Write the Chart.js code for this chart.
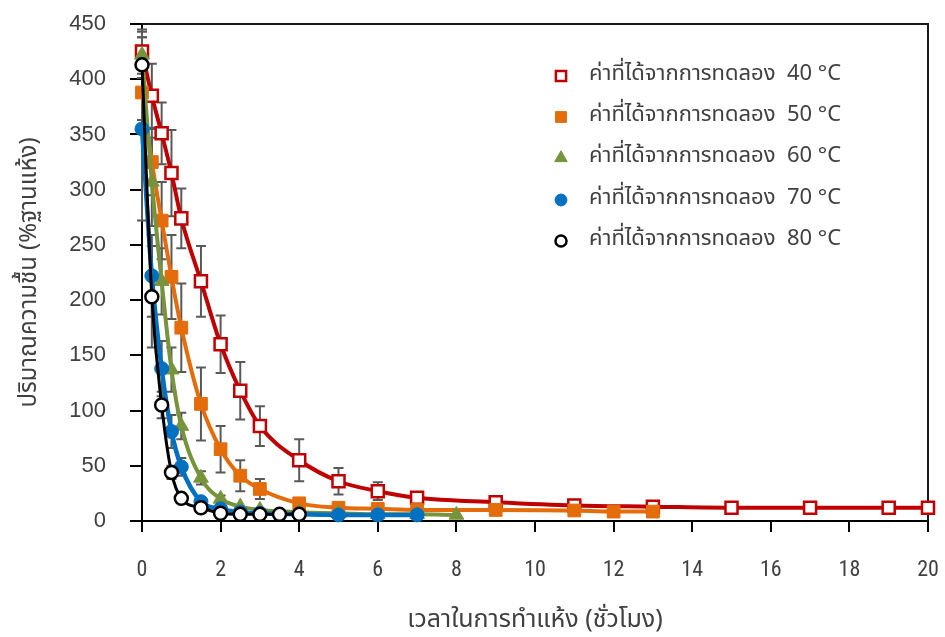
<!DOCTYPE html>
<html><head><meta charset="utf-8">
<script src="https://cdn.jsdelivr.net/npm/chart.js@4.4.0/dist/chart.umd.min.js"></script>
<style>html,body{margin:0;padding:0;background:#fff}#wrap{position:relative;width:945px;height:637px}</style>
</head><body><div id="wrap"><canvas id="c" width="945" height="637"></canvas></div>
<script>
// ---- data ----
const legendLabels = ['ค่าที่ได้จากการทดลอง  40 °C','ค่าที่ได้จากการทดลอง  50 °C','ค่าที่ได้จากการทดลอง  60 °C','ค่าที่ได้จากการทดลอง  70 °C','ค่าที่ได้จากการทดลอง  80 °C'];
const xTitle = 'เวลาในการทำแห้ง (ชั่วโมง)';
const yTitle = 'ปริมาณความชื้น (%ฐานแห้ง)';
const xTickValues = [0,2,4,6,8,10,12,14,16,18,20];
const yTickValues = [0,50,100,150,200,250,300,350,400,450];

const time40  = [0,0.25,0.5,0.75,1,1.5,2,2.5,3,4,5,6,7,9,11,13,15,17,19,20];
const moist40 = [425,385,351,315,274,217,160,118,86,55,36,27,21,17,14,13,12,12,12,12];
const err40   = [20,29,28,39,27,32,26,26,18,19,12,8,0,0,0,0,0,0,0,0];

const time50  = [0,0.25,0.5,0.75,1,1.5,2,2.5,3,4,5,6,7,9,11,12,13];
const moist50 = [388,325,272,221,175,106,65,41,29,16,12,11,10,10,9.5,8.5,8.5];
const err50   = [25,30,35,38,40,33,21,14,9,3,0,0,0,0,0,0,0];

const time60  = [0,0.25,0.5,0.75,1,1.5,2,2.5,3,4,5,6,7,8];
const moist60 = [422,307,217,137,86,39,20,13,10,8,7,6,6,5.5];
const err60   = [21,40,30,20,12,6,3,0,0,0,0,0,0,0];

const time70  = [0,0.25,0.5,0.75,1,1.5,2,2.5,3,4,5,6,7];
const moist70 = [355,222,138,81,49,17.5,11,8,7,6,5.5,5.5,5.5];
const err70   = [83,37,25,15,8,0,0,0,0,0,0,0,0];

const time80  = [0,0.25,0.5,0.75,1,1.5,2,2.5,3,3.5,4];
const moist80 = [413,203,105,44,20.5,12,7,6,6,6,6];
const err80   = [25,46,12,6,3,0,0,0,0,0,0];

// ---- styles ----
const THAI = "'Noto Sans Thai','Noto Sans','Open Sans',sans-serif";
const styles = [
  {color:'#C00000', fill:'#FFFFFF', pointStyle:'rect', r:8.5, bw:2.5, lw:4, order:5},
  {color:'#E46C0A', fill:'#E46C0A', pointStyle:'rect', r:9, bw:1, lw:4, order:4},
  {color:'#77933C', fill:'#77933C', pointStyle:'triangle', r:8.5, bw:1, lw:4, order:3},
  {color:'#0070C0', fill:'#0070C0', pointStyle:'circle', r:7, bw:1, lw:4.5, order:2},
  {color:'#000000', fill:'#FFFFFF', pointStyle:'circle', r:6.5, bw:2.5, lw:3, order:1}
];
const times = [time40,time50,time60,time70,time80];
const moists = [moist40,moist50,moist60,moist70,moist80];
const errs = [err40,err50,err60,err70,err80];

const datasets = styles.map((s,i)=>({
  label: legendLabels[i],
  data: times[i].map((t,k)=>({x:t, y:moists[i][k]})),
  errors: errs[i],
  borderColor: s.color, borderWidth: s.lw,
  pointStyle: s.pointStyle, pointRadius: s.r, pointHoverRadius: s.r,
  pointBackgroundColor: s.fill, pointBorderColor: s.color, pointBorderWidth: s.bw,
  cubicInterpolationMode: 'monotone', tension: 0.4,
  fill: false, clip: false, order: s.order
}));

const errorBarPlugin = {
  id: 'errorBars',
  beforeDatasetsDraw(chart){
    const ctx = chart.ctx, xs = chart.scales.x, ys = chart.scales.y;
    ctx.save();
    ctx.strokeStyle = '#595959'; ctx.lineWidth = 2;
    chart.data.datasets.forEach(ds=>{
      ds.data.forEach((p,k)=>{
        const e = ds.errors[k]; if(!e) return;
        const px = xs.getPixelForValue(p.x);
        const y1 = ys.getPixelForValue(p.y + e), y2 = ys.getPixelForValue(p.y - e);
        ctx.beginPath();
        ctx.moveTo(px, y1); ctx.lineTo(px, y2);
        ctx.moveTo(px-5, y1); ctx.lineTo(px+5, y1);
        ctx.moveTo(px-5, y2); ctx.lineTo(px+5, y2);
        ctx.stroke();
      });
    });
    ctx.restore();
  }
};

const framePlugin = {
  id: 'frame',
  beforeDatasetsDraw(chart){
    const {ctx, chartArea:a} = chart;
    ctx.save(); ctx.strokeStyle = '#1a1a1a'; ctx.lineWidth = 2;
    ctx.beginPath();
    ctx.moveTo(a.left, a.top); ctx.lineTo(a.right, a.top); ctx.lineTo(a.right, a.bottom);
    ctx.stroke(); ctx.restore();
  }
};

function drawMarker(ctx, s, x, y){
  ctx.save();
  ctx.fillStyle = s.fill; ctx.strokeStyle = s.color; ctx.lineWidth = s.bw;
  ctx.beginPath();
  if(s.pointStyle==='rect'){
    const h = s.r*Math.SQRT1_2*0.85; ctx.rect(x-h, y-h, 2*h, 2*h);
  } else if(s.pointStyle==='triangle'){
    const r = s.r*0.85;
    ctx.moveTo(x, y-r); ctx.lineTo(x+r*0.866, y+r*0.5); ctx.lineTo(x-r*0.866, y+r*0.5); ctx.closePath();
  } else {
    ctx.arc(x, y, s.r*0.85, 0, Math.PI*2);
  }
  ctx.fill(); ctx.stroke(); ctx.restore();
}

const legendPlugin = {
  id: 'innerLegend',
  afterDraw(chart){
    const ctx = chart.ctx;
    ctx.save();
    ctx.font = "22px " + THAI;
    ctx.fillStyle = '#404040'; ctx.textBaseline = 'middle'; ctx.textAlign = 'left';
    const rows = [76, 117, 158, 200, 241];
    legendLabels.forEach((lab,i)=>{
      drawMarker(ctx, styles[i], 561, rows[i]);
      ctx.fillText(lab, 589, rows[i]);
    });
    ctx.restore();
  }
};

new Chart(document.getElementById('c'), {
  type: 'line',
  data: { datasets },
  plugins: [errorBarPlugin, framePlugin, legendPlugin],
  options: {
    responsive: false, animation: false, devicePixelRatio: 1,
    layout: { padding: { left: 0, right: 17, top: 24, bottom: 0 } },
    plugins: { legend: { display: false }, tooltip: { enabled: false } },
    scales: {
      x: {
        type: 'linear', min: 0, max: 20,
        afterBuildTicks(scale){ scale.ticks = xTickValues.map(v=>({value:v})); },
        afterFit(scale){ scale.height = 116; scale.paddingLeft = 0; scale.paddingRight = 0; },
        border: { display: true, color: '#000', width: 2 },
        grid: { display: true, drawOnChartArea: false, drawTicks: true, tickLength: 11, color: '#000', lineWidth: 2 },
        ticks: { color: '#404040', padding: 25, maxRotation: 0, font: { family: "'Liberation Sans Narrow','Roboto Condensed','Liberation Sans',sans-serif", size: 22 } },
        title: { display: true, text: xTitle, color: '#404040', font: { family: THAI, size: 25 }, padding: { top: 0, bottom: 0 } }
      },
      y: {
        type: 'linear', min: 0, max: 450,
        afterBuildTicks(scale){ scale.ticks = yTickValues.map(v=>({value:v})); },
        afterFit(scale){ scale.width = 142; scale.paddingTop = 0; scale.paddingBottom = 0; },
        border: { display: true, color: '#000', width: 2 },
        grid: { display: true, drawOnChartArea: false, drawTicks: true, tickLength: 12, color: '#000', lineWidth: 2 },
        ticks: { color: '#404040', padding: 24, font: { family: "'Liberation Sans',sans-serif", size: 22 } },
        title: { display: true, text: yTitle, color: '#404040', font: { family: THAI, size: 24 }, padding: { top: 17, bottom: 0 } }
      }
    }
  }
});
</script></body></html>
